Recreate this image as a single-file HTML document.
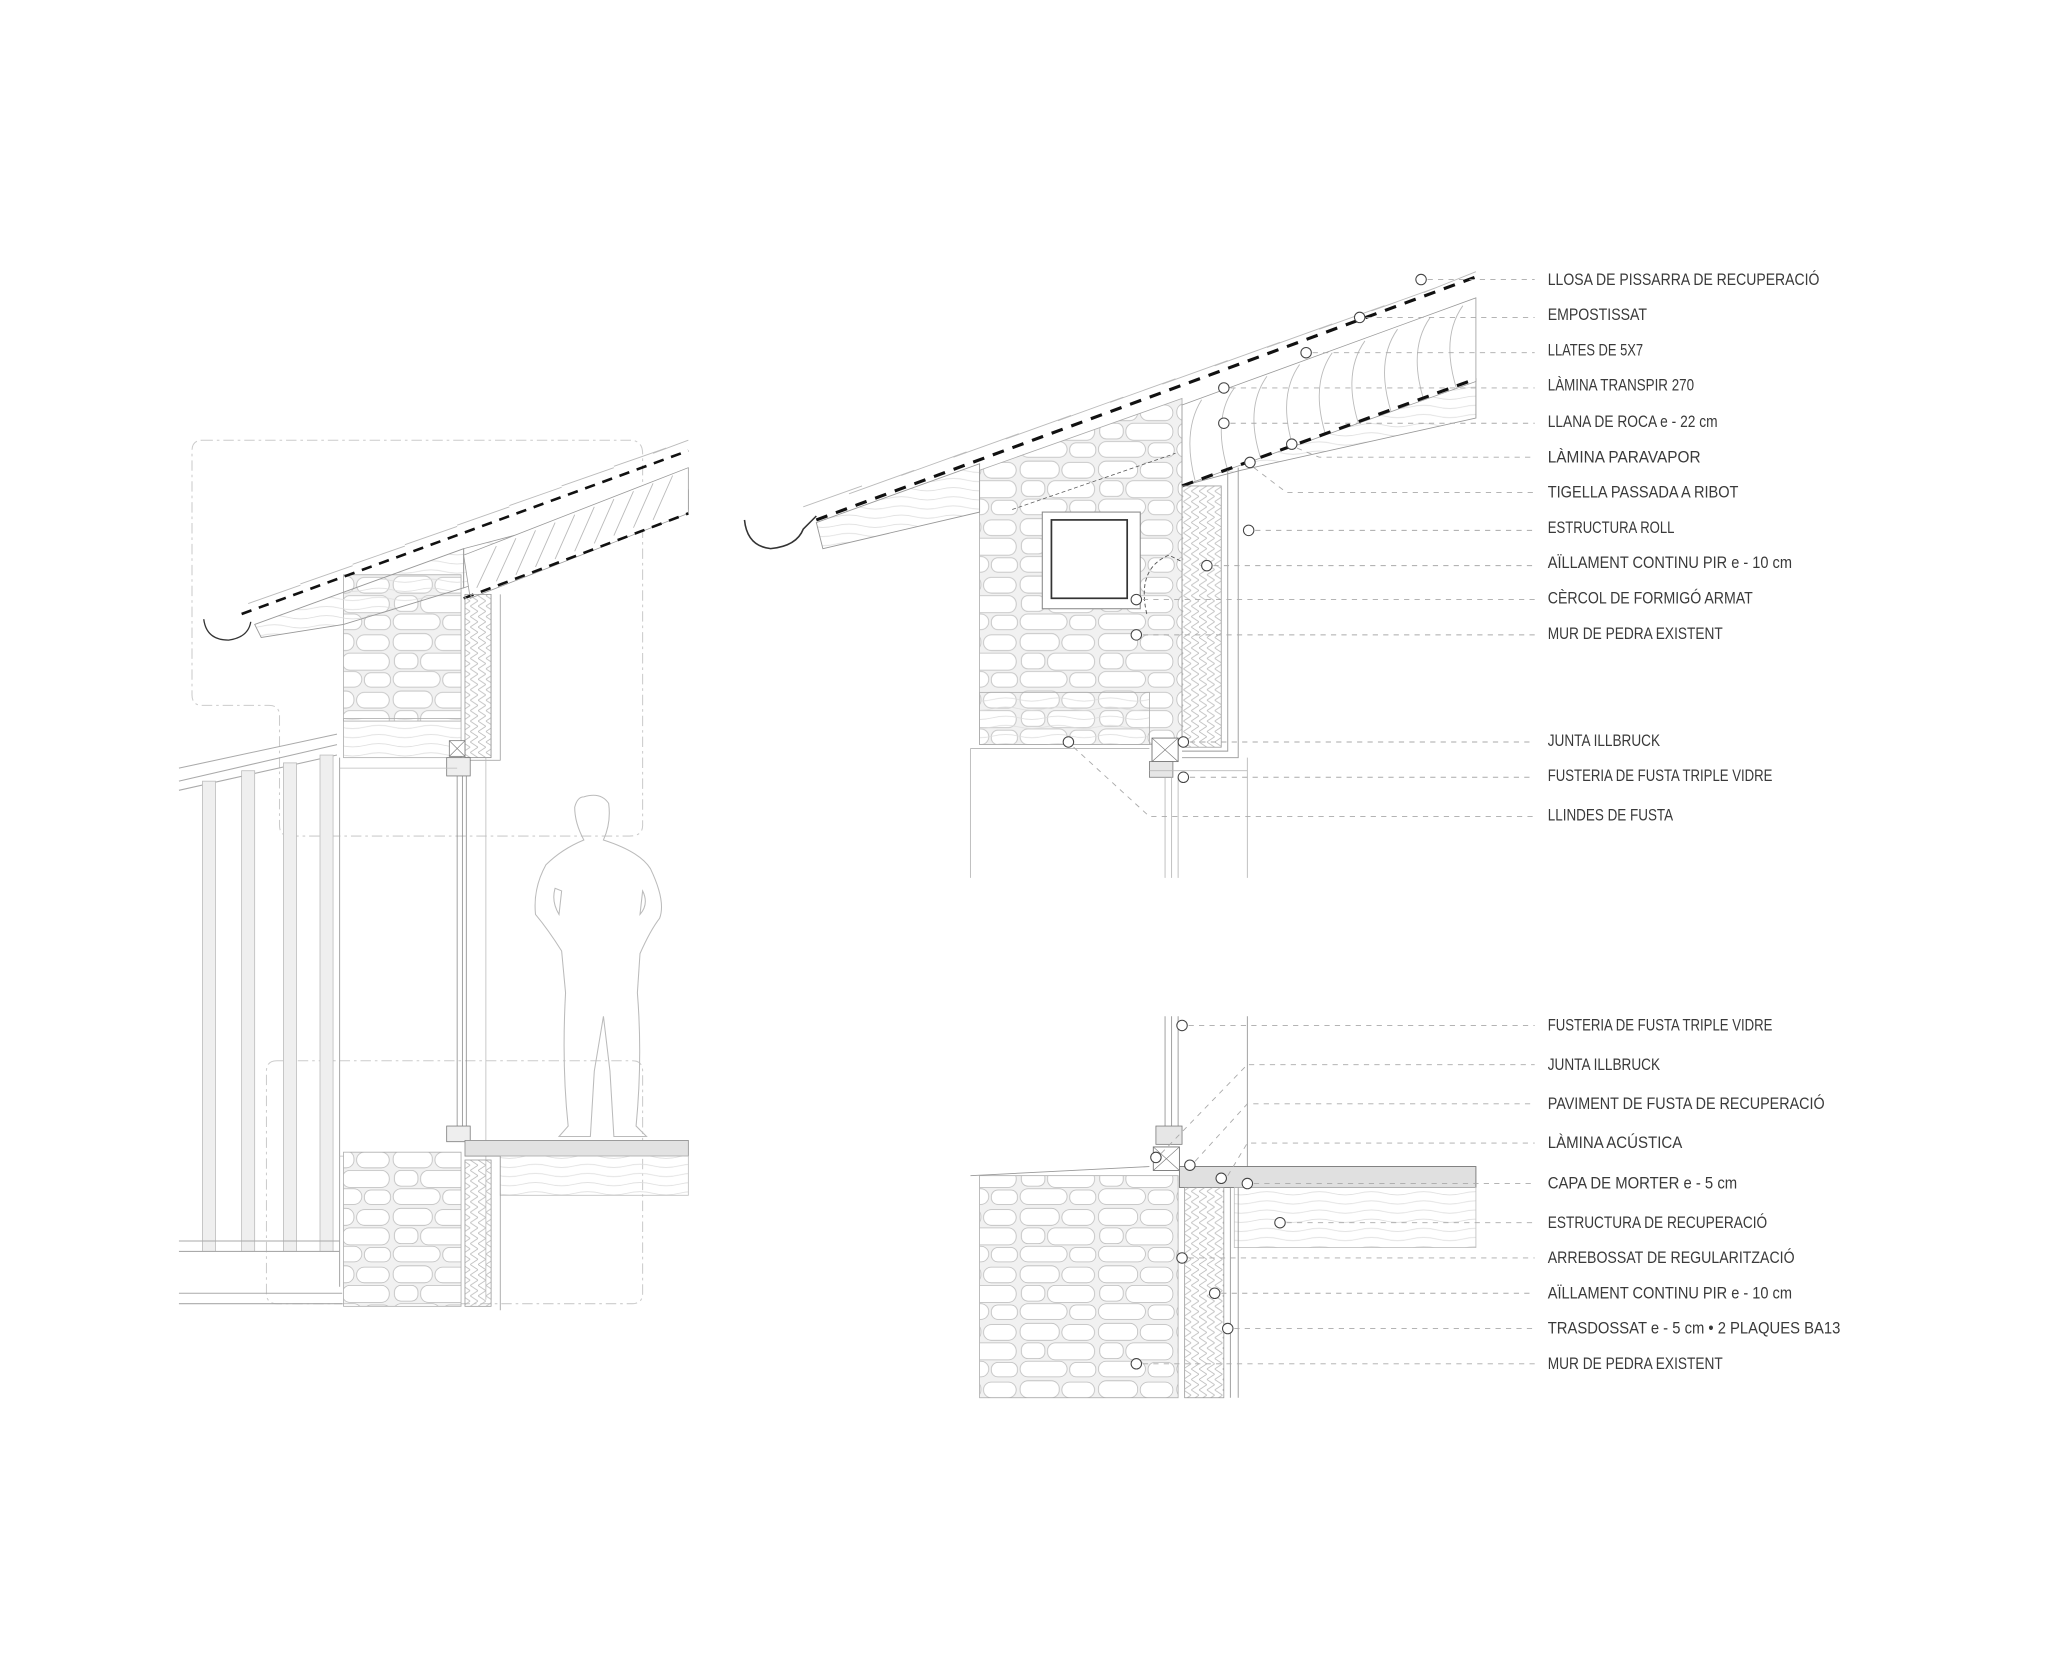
<!DOCTYPE html>
<html><head><meta charset="utf-8"><style>
html,body{margin:0;padding:0;background:#fff;}
svg{display:block;}
text{font-family:"Liberation Sans",sans-serif;font-size:12.5px;fill:#3a3a3a;}
</style></head><body>
<svg width="2048" height="1676" viewBox="0 0 1568 1283" preserveAspectRatio="none" xmlns="http://www.w3.org/2000/svg">
<defs>
<pattern id="wood" width="40" height="7" patternUnits="userSpaceOnUse"><path d="M0 3.5 Q10 1 20 3.5 T40 3.5" fill="none" stroke="#ddd" stroke-width="0.6"/></pattern>
<pattern id="ins" width="6" height="8" patternUnits="userSpaceOnUse"><path d="M0 0 L6 4 L0 8" fill="none" stroke="#bbb" stroke-width="0.6"/></pattern>
<pattern id="stone" width="60" height="44" patternUnits="userSpaceOnUse">
<rect width="60" height="44" fill="#f1f1f1"/>
<rect x="1" y="1" width="30" height="13" rx="6" fill="#fff" stroke="#bbb" stroke-width="0.6"/>
<rect x="33" y="2" width="25" height="12" rx="6" fill="#fff" stroke="#bbb" stroke-width="0.6"/>
<rect x="2" y="16" width="18" height="12" rx="5" fill="#fff" stroke="#bbb" stroke-width="0.6"/>
<rect x="22" y="16" width="36" height="13" rx="6" fill="#fff" stroke="#bbb" stroke-width="0.6"/>
<rect x="1" y="30" width="36" height="12" rx="6" fill="#fff" stroke="#bbb" stroke-width="0.6"/>
<rect x="39" y="31" width="20" height="11" rx="5" fill="#fff" stroke="#bbb" stroke-width="0.6"/>
</pattern>
</defs>

<!-- ===== LEFT OVERVIEW ===== -->
<g fill="none" stroke="#ccc" stroke-width="0.8" stroke-dasharray="8 3 2 3">
<path d="M155 337 H482 Q492 337 492 347 V632 Q492 640 482 640 H222 Q214 640 214 632 V548 Q214 540 206 540 H155 Q147 540 147 532 V345 Q147 337 155 337Z"/>
<path d="M212 812 H484 Q492 812 492 820 V990 Q492 998 484 998 H212 Q204 998 204 990 V820 Q204 812 212 812Z"/>
</g>
<g stroke="#aaa" stroke-width="0.8" fill="none">
<path d="M137 588 L258 562 M137 598 L258 570 M137 605 L258 578"/>
<path d="M260 580 V985"/>
</g>
<g fill="#efefef" stroke="#bbb" stroke-width="0.6">
<rect x="155" y="598" width="10" height="360"/><rect x="185" y="590" width="10" height="368"/><rect x="217" y="584" width="10" height="374"/><rect x="245" y="578" width="10" height="380"/>
</g>
<g stroke="#aaa" stroke-width="0.8"><path d="M137 950 H260 M137 958 H260 M137 990 H262 M137 998 H262"/></g>
<!-- left wall top (behind roof) -->
<rect x="263" y="440" width="90" height="112" fill="url(#stone)" stroke="#aaa" stroke-width="0.6"/>
<rect x="263" y="550" width="90" height="30" fill="url(#wood)" stroke="#aaa" stroke-width="0.6"/>
<!-- left roof -->
<path d="M195 478 L355 420 L355 450 L263 478 L200 488 Z" fill="url(#wood)" stroke="#999" stroke-width="0.7"/>
<path d="M355 450 L527 390 L527 375 L355 420Z" fill="url(#wood)" stroke="#999" stroke-width="0.6"/>
<path d="M355 425 L527 358 L527 393 L360 458 Z" fill="#fff" stroke="#999" stroke-width="0.6"/>
<g stroke="#bbb" stroke-width="0.7" fill="none"><path d="M365 450 L380 418 M380 445 L395 412 M395 440 L410 406 M410 434 L425 400 M425 428 L440 394 M440 422 L455 388 M455 416 L470 382 M470 410 L485 376 M485 404 L500 370 M500 398 L515 364"/></g>
<g stroke="#bbb" stroke-width="0.7" fill="none"><path d="M190 462 L230 448 M230 447 L270 433 M270 432 L310 418 M310 417 L350 403 M350 402 L390 388 M390 387 L430 373 M430 372 L470 358 M470 357 L510 343 M500 347 L527 337"/></g>
<path d="M185 470 L527 345" stroke="#111" stroke-width="2" stroke-dasharray="8 6"/>
<path d="M355 458 L527 393" stroke="#111" stroke-width="2" stroke-dasharray="8 6"/>
<path d="M156 474 Q158 490 175 490 Q190 488 192 476" fill="none" stroke="#333" stroke-width="1"/>
<rect x="356" y="455" width="20" height="125" fill="url(#ins)" stroke="#999" stroke-width="0.6"/>
<path d="M376 455 V580 H356 M383 455 V582 H356" stroke="#999" fill="none" stroke-width="0.6"/>
<rect x="344" y="567" width="12" height="12" fill="#fff" stroke="#777" stroke-width="0.6"/>
<path d="M344 567 L356 579 M356 567 L344 579" stroke="#777" stroke-width="0.5"/>
<rect x="342" y="580" width="18" height="14" fill="#eee" stroke="#777" stroke-width="0.6"/>
<path d="M350 594 V862 M354 594 V862 M357 594 V862" stroke="#888" stroke-width="0.6"/>
<path d="M260 588 H350 M260 885 H350 M372 580 V995" stroke="#bbb" stroke-width="0.6"/>
<rect x="342" y="862" width="18" height="12" fill="#eee" stroke="#777" stroke-width="0.6"/>
<rect x="356" y="873" width="171" height="12" fill="#e2e2e2" stroke="#888" stroke-width="0.6"/>
<rect x="383" y="885" width="144" height="30" fill="url(#wood)" stroke="#bbb" stroke-width="0.6"/>
<rect x="263" y="882" width="90" height="118" fill="url(#stone)" stroke="#aaa" stroke-width="0.6"/>
<rect x="356" y="888" width="20" height="112" fill="url(#ins)" stroke="#999" stroke-width="0.6"/>
<path d="M383 885 V1003" stroke="#999" stroke-width="0.6"/>
<path d="M447 610 Q460 606 466 615 Q468 630 462 643 Q490 652 498 665 Q510 690 505 703 Q498 712 490 730 L488 760 Q492 810 487 862 L495 870 L470 870 L467 820 L462 778 L455 820 L452 870 L428 870 L435 862 Q430 815 433 760 L430 728 Q420 712 410 700 Q408 680 418 662 Q430 650 447 643 Q440 630 440 618 Q442 610 447 610Z M425 680 Q422 690 428 700 L430 682Z M492 682 L490 700 Q497 692 492 682Z" fill="none" stroke="#bbb" stroke-width="0.8"/>

<!-- ===== TOP RIGHT DETAIL ===== -->
<path d="M750 360 L905 305 L905 570 L750 570 Z" fill="url(#stone)" stroke="#aaa" stroke-width="0.6"/>
<path d="M625 400 L750 355 L750 392 L630 420 Z" fill="url(#wood)" stroke="#999" stroke-width="0.7"/>
<path d="M905 372 L1130 290 L1130 320 L950 360 L905 372Z" fill="url(#wood)" stroke="#999" stroke-width="0.7"/>
<path d="M905 310 L1130 228 L1130 292 L905 372 Z" fill="#fff" stroke="#999" stroke-width="0.6"/>
<g stroke="#bbb" stroke-width="0.7" fill="none">
<path d="M915 368 Q905 330 920 306 M940 360 Q928 320 945 297 M965 350 Q953 312 970 288 M990 342 Q978 303 995 279 M1015 333 Q1003 294 1020 270 M1040 324 Q1028 285 1045 261 M1065 315 Q1053 276 1070 252 M1090 306 Q1078 267 1095 243 M1115 297 Q1103 258 1120 234"/>
</g>
<g stroke="#bbb" stroke-width="0.7" fill="none">
<path d="M615 388 L660 372 M650 378 L700 360 M690 364 L740 346 M730 350 L780 332 M770 336 L820 318 M810 322 L860 304 M850 308 L900 290 M890 294 L940 276 M930 280 L980 262 M970 266 L1020 248 M1010 252 L1060 234 M1050 238 L1100 220 M1090 224 L1130 208"/>
</g>
<path d="M625 398 L1130 212" stroke="#111" stroke-width="2.4" stroke-dasharray="9 7"/>
<path d="M905 372 L1130 290" stroke="#111" stroke-width="2.4" stroke-dasharray="9 7"/>
<path d="M570 398 Q572 418 590 420 Q610 418 615 405 L625 395" fill="none" stroke="#333" stroke-width="1.2"/>
<rect x="750" y="530" width="130" height="40" fill="url(#wood)" stroke="#aaa" stroke-width="0.6"/>
<rect x="798" y="392" width="75" height="74" fill="#fff" stroke="#888" stroke-width="0.8"/>
<rect x="805" y="398" width="58" height="60" fill="none" stroke="#333" stroke-width="1.3"/>
<rect x="905" y="372" width="30" height="200" fill="url(#ins)" stroke="#999" stroke-width="0.6"/>
<path d="M940 360 V575 H905 M948 358 V580 H905" fill="none" stroke="#999" stroke-width="0.7"/>
<path d="M878 470 Q870 435 895 425 L905 430" fill="none" stroke="#555" stroke-width="0.7" stroke-dasharray="3 2"/>
<path d="M775 390 L900 347" stroke="#555" stroke-width="0.6" stroke-dasharray="3 2"/>
<rect x="882" y="565" width="20" height="18" fill="#fff" stroke="#777" stroke-width="0.7"/>
<path d="M882 565 L902 583 M902 565 L882 583" stroke="#777" stroke-width="0.5"/>
<rect x="880" y="583" width="18" height="12" fill="#e6e6e6" stroke="#777" stroke-width="0.6"/>
<path d="M743 573 H880 M743 573 V672 M955 580 V672 M892 595 V672 M897 595 V672 M902 595 V672 M880 590 H955" fill="none" stroke="#bbb" stroke-width="0.7"/>

<!-- ===== BOTTOM RIGHT DETAIL ===== -->
<path d="M892 778 V870 M897 778 V870 M902 778 V870 M955 778 V893" stroke="#999" stroke-width="0.7" fill="none"/>
<rect x="885" y="862" width="20" height="14" fill="#e6e6e6" stroke="#777" stroke-width="0.6"/>
<rect x="883" y="878" width="20" height="18" fill="#fff" stroke="#777" stroke-width="0.7"/>
<path d="M883 878 L903 896 M903 878 L883 896" stroke="#777" stroke-width="0.5"/>
<rect x="903" y="893" width="227" height="16" fill="#e0e0e0" stroke="#777" stroke-width="0.7"/>
<rect x="945" y="909" width="185" height="46" fill="url(#wood)" stroke="#bbb" stroke-width="0.6"/>
<path d="M743 900 L880 893" stroke="#999" stroke-width="0.7"/>
<rect x="750" y="900" width="152" height="170" fill="url(#stone)" stroke="#aaa" stroke-width="0.6"/>
<rect x="907" y="909" width="30" height="161" fill="url(#ins)" stroke="#999" stroke-width="0.6"/>
<path d="M942 909 V1070 M948 909 V1070" stroke="#999" stroke-width="0.7"/>

<!-- ===== LEADERS & CIRCLES ===== -->
<g fill="none" stroke="#aaa" stroke-width="0.7" stroke-dasharray="4 4">
<path d="M1093 214 H1175"/><path d="M1046 243 H1175"/><path d="M1005 270 H1175"/><path d="M942 297 H1175"/><path d="M942 324 H1175"/>
<path d="M993 343 L1010 350 H1175"/><path d="M960 358 L985 377 H1175"/><path d="M961 406 H1175"/><path d="M929 433 H1175"/><path d="M875 459 H1175"/><path d="M875 486 H1175"/>
<path d="M911 568 H1175"/><path d="M911 595 H1175"/><path d="M822 572 L880 625 H1175"/>
<path d="M910 785 H1175"/><path d="M889 883 L955 815 H1175"/><path d="M915 889 L955 845 H1175"/><path d="M940 900 L955 875 H1175"/><path d="M960 906 H1175"/><path d="M985 936 H1175"/><path d="M910 963 H1175"/><path d="M935 990 H1175"/><path d="M945 1017 H1175"/><path d="M875 1044 H1175"/>
</g>
<g fill="#fff" stroke="#444" stroke-width="0.8">
<circle cx="1088" cy="214" r="4"/><circle cx="1041" cy="243" r="4"/><circle cx="1000" cy="270" r="4"/><circle cx="937" cy="297" r="4"/><circle cx="937" cy="324" r="4"/><circle cx="989" cy="340" r="4"/><circle cx="957" cy="354" r="4"/><circle cx="956" cy="406" r="4"/><circle cx="924" cy="433" r="4"/><circle cx="870" cy="459" r="4"/><circle cx="870" cy="486" r="4"/><circle cx="906" cy="568" r="4"/><circle cx="906" cy="595" r="4"/><circle cx="818" cy="568" r="4"/>
<circle cx="905" cy="785" r="4"/><circle cx="885" cy="886" r="4"/><circle cx="911" cy="892" r="4"/><circle cx="935" cy="902" r="4"/><circle cx="955" cy="906" r="4"/><circle cx="980" cy="936" r="4"/><circle cx="905" cy="963" r="4"/><circle cx="930" cy="990" r="4"/><circle cx="940" cy="1017" r="4"/><circle cx="870" cy="1044" r="4"/>
</g>

<!-- ===== LABELS ===== -->
<g>
<text x="1185" y="218" textLength="208" lengthAdjust="spacingAndGlyphs">LLOSA DE PISSARRA DE RECUPERACIÓ</text>
<text x="1185" y="245" textLength="76" lengthAdjust="spacingAndGlyphs">EMPOSTISSAT</text>
<text x="1185" y="272" textLength="73" lengthAdjust="spacingAndGlyphs">LLATES DE 5X7</text>
<text x="1185" y="299" textLength="112" lengthAdjust="spacingAndGlyphs">LÀMINA TRANSPIR 270</text>
<text x="1185" y="327" textLength="130" lengthAdjust="spacingAndGlyphs">LLANA DE ROCA e - 22 cm</text>
<text x="1185" y="354" textLength="117" lengthAdjust="spacingAndGlyphs">LÀMINA PARAVAPOR</text>
<text x="1185" y="381" textLength="146" lengthAdjust="spacingAndGlyphs">TIGELLA PASSADA A RIBOT</text>
<text x="1185" y="408" textLength="97" lengthAdjust="spacingAndGlyphs">ESTRUCTURA ROLL</text>
<text x="1185" y="435" textLength="187" lengthAdjust="spacingAndGlyphs">AÏLLAMENT CONTINU PIR e - 10 cm</text>
<text x="1185" y="462" textLength="157" lengthAdjust="spacingAndGlyphs">CÈRCOL DE FORMIGÓ ARMAT</text>
<text x="1185" y="489" textLength="134" lengthAdjust="spacingAndGlyphs">MUR DE PEDRA EXISTENT</text>
<text x="1185" y="571" textLength="86" lengthAdjust="spacingAndGlyphs">JUNTA ILLBRUCK</text>
<text x="1185" y="598" textLength="172" lengthAdjust="spacingAndGlyphs">FUSTERIA DE FUSTA TRIPLE VIDRE</text>
<text x="1185" y="628" textLength="96" lengthAdjust="spacingAndGlyphs">LLINDES DE FUSTA</text>
<text x="1185" y="789" textLength="172" lengthAdjust="spacingAndGlyphs">FUSTERIA DE FUSTA TRIPLE VIDRE</text>
<text x="1185" y="819" textLength="86" lengthAdjust="spacingAndGlyphs">JUNTA ILLBRUCK</text>
<text x="1185" y="849" textLength="212" lengthAdjust="spacingAndGlyphs">PAVIMENT DE FUSTA DE RECUPERACIÓ</text>
<text x="1185" y="879" textLength="103" lengthAdjust="spacingAndGlyphs">LÀMINA ACÚSTICA</text>
<text x="1185" y="910" textLength="145" lengthAdjust="spacingAndGlyphs">CAPA DE MORTER e - 5 cm</text>
<text x="1185" y="940" textLength="168" lengthAdjust="spacingAndGlyphs">ESTRUCTURA DE RECUPERACIÓ</text>
<text x="1185" y="967" textLength="189" lengthAdjust="spacingAndGlyphs">ARREBOSSAT DE REGULARITZACIÓ</text>
<text x="1185" y="994" textLength="187" lengthAdjust="spacingAndGlyphs">AÏLLAMENT CONTINU PIR e - 10 cm</text>
<text x="1185" y="1021" textLength="224" lengthAdjust="spacingAndGlyphs">TRASDOSSAT e - 5 cm • 2 PLAQUES BA13</text>
<text x="1185" y="1048" textLength="134" lengthAdjust="spacingAndGlyphs">MUR DE PEDRA EXISTENT</text>
</g>
</svg>
</body></html>
